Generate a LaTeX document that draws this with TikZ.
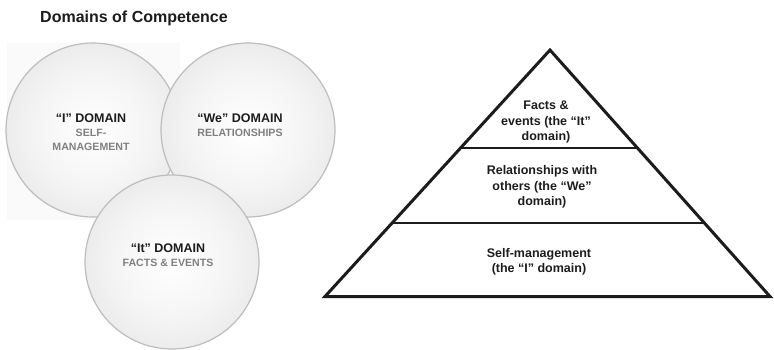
\documentclass[tikz,border=0pt]{standalone}
\usepackage{fontspec}
\setmainfont{Liberation Sans}
\usetikzlibrary{calc}
\definecolor{BallEdge}{HTML}{BDBDBD}
\definecolor{SubGray}{HTML}{808080}
\definecolor{InkBlack}{HTML}{1C1C1C}
\definecolor{PaperGray}{HTML}{FAFAFA}
\pgfdeclareradialshading{ballshade}{\pgfpoint{0bp}{0bp}}{color(0bp)=(white);
  color(16bp)=(white!96!black); color(50bp)=(white!83!black)}
\newcommand{\domsub}[1]{{\fontsize{10.6}{14}\selectfont\color{SubGray}#1}}

\begin{document}
\begin{tikzpicture}[x=1pt,y=-1pt,
        domaincircle/.style={circle,draw=BallEdge,line width=1.2pt,
                     shading=ballshade,minimum size=174pt,inner sep=0pt},
        domainhead/.style={align=center,text=InkBlack,inner sep=0pt,
                     font=\fontsize{12.5}{14}\selectfont\bfseries},
        tierlabel/.style={align=center,text=InkBlack,inner sep=0pt,
                     font=\fontsize{12.5}{15.5}\selectfont\bfseries},
        pyramidline/.style={line width=3pt,line join=miter,InkBlack}]
        \useasboundingbox (0,0) rectangle (774,349);
        \node[anchor=west,inner sep=0pt,text=InkBlack,
              font=\fontsize{16}{18}\selectfont\bfseries] (title) at (40,18)
              {Domains of Competence};
        \fill[PaperGray] (7,43) rectangle (180,220);
        \node[domaincircle] (idom) at (93,130) {};
        \node[domaincircle] (wedom) at (248,130) {};
        \node[domaincircle] (itdom) at (172,262) {};
        \node[domainhead] (ilabel) at (91,132)
              {“I” DOMAIN\\\domsub{SELF-}\\\domsub{MANAGEMENT}};
        \node[domainhead] (welabel) at (240,125)
              {“We” DOMAIN\\\domsub{RELATIONSHIPS}};
        \node[domainhead] (itlabel) at (168,255.5)
              {“It” DOMAIN\\\domsub{FACTS \& EVENTS}};
        \coordinate (apex) at (550,50);
        \coordinate (baseL) at (325,296.5);
        \coordinate (baseR) at (770,296.5);
        \draw[pyramidline] (apex) -- (baseR) -- (baseL) -- cycle;
        \foreach \t in {0.3976,0.702}{
          \draw[pyramidline,line width=2.5pt]
              ($(apex)!\t!(baseL)$) -- ($(apex)!\t!(baseR)$);
        }
        \node[tierlabel] (factstxt) at (546,122)
              {Facts \&\\events (the “It”\\domain)};
        \node[tierlabel] (relstxt) at (542,187)
              {Relationships with\\others (the “We”\\domain)};
        \node[tierlabel] (selftxt) at (539,262)
              {Self-management\\(the “I” domain)};
      \end{tikzpicture}
\end{document}
